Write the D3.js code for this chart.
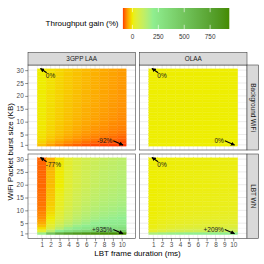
<!DOCTYPE html>
<html><head><meta charset="utf-8">
<script src="https://cdn.jsdelivr.net/npm/d3@7/dist/d3.min.js"></script>
<style>html,body{margin:0;padding:0;background:#fff;}svg{display:block;font-family:"Liberation Sans",Arial,Helvetica,sans-serif;}</style>
</head><body><svg id="c" width="264" height="264"></svg>
<script>
// ---------- data ----------
const frameDurations = [1,2,3,4,5,6,7,8,9,10];
const burstSizes = [1,2,3,4,5,6,7,8,9,10,11,12,13,14,15,16,17,18,19,20,21,22,23,24,25,26,27,28,29,30];
const technologies = ["3GPP LAA","OLAA"];
const scenarios = ["Background WiFi","LBT WN"];
const xTickValues = [1,2,3,4,5,6,7,8,9,10];
const yTickValues = [1,5,10,15,20,25,30];
const legendTicks = [0,250,500,750];
const legendTitle = "Throughput gain (%)";
const xTitle = "LBT frame duration (ms)";
const yTitle = "WiFi Packet burst size (KB)";
const colorStops = [-92,0,200,935];
const colorRange = ["#FF3A00","#EEEE00","#90EE90","#458B00"];

// gain (%) rows for burst size 1..30, columns frame duration 1..10
const laaBackground = [
[-28,-47,-61,-71,-78,-83,-87,-89,-91,-92],
[-17,-33,-46,-56,-64,-71,-77,-81,-84,-87],
[-12,-26,-38,-48,-56,-63,-69,-74,-78,-81],
[-9,-22,-33,-42,-50,-57,-63,-68,-72,-76],
[-7,-19,-29,-38,-46,-53,-59,-64,-68,-72],
[-6,-17,-27,-35,-43,-50,-55,-60,-64,-68],
[-5,-16,-25,-33,-41,-47,-53,-57,-62,-65],
[-4,-15,-24,-32,-39,-45,-51,-55,-59,-63],
[-4,-14,-23,-30,-37,-43,-49,-53,-58,-61],
[-3,-13,-22,-29,-36,-42,-47,-52,-56,-60],
[-3,-13,-21,-28,-35,-41,-46,-51,-55,-59],
[-3,-12,-20,-28,-34,-40,-45,-50,-54,-58],
[-2,-12,-20,-27,-33,-39,-44,-49,-53,-57],
[-2,-11,-19,-26,-33,-38,-44,-48,-52,-56],
[-2,-11,-19,-26,-32,-38,-43,-47,-51,-55],
[-2,-11,-18,-25,-31,-37,-42,-46,-50,-54],
[-2,-10,-18,-25,-31,-36,-41,-46,-50,-54],
[-1,-10,-18,-24,-30,-36,-41,-45,-49,-53],
[-1,-10,-17,-24,-30,-35,-40,-45,-49,-53],
[-1,-10,-17,-24,-30,-35,-40,-44,-48,-52],
[-1,-10,-17,-23,-29,-35,-40,-44,-48,-52],
[-1,-9,-17,-23,-29,-34,-39,-44,-47,-51],
[-1,-9,-16,-23,-29,-34,-39,-43,-47,-51],
[-1,-9,-16,-22,-28,-34,-39,-43,-47,-51],
[-1,-9,-16,-22,-28,-33,-38,-42,-46,-50],
[0,-9,-16,-22,-28,-33,-38,-42,-46,-50],
[0,-9,-16,-22,-28,-33,-38,-42,-46,-50],
[0,-8,-15,-22,-27,-33,-37,-42,-45,-49],
[0,-8,-15,-21,-27,-32,-37,-41,-45,-49],
[0,-8,-15,-21,-27,-32,-37,-41,-45,-49]];

const olaaBackground = [
[0,0,0,0,0,0,0,0,0,0],[0,0,0,0,0,0,0,0,0,0],[0,0,0,0,0,0,0,0,0,0],[0,0,0,0,0,0,0,0,0,0],[0,0,0,0,0,0,0,0,0,0],
[0,0,0,0,0,0,0,0,0,0],[0,0,0,0,0,0,0,0,0,0],[0,0,0,0,0,0,0,0,0,0],[0,0,0,0,0,0,0,0,0,0],[0,0,0,0,0,0,0,0,0,0],
[0,0,0,0,0,0,0,0,0,0],[0,0,0,0,0,0,0,0,0,0],[0,0,0,0,0,0,0,0,0,0],[0,0,0,0,0,0,0,0,0,0],[0,0,0,0,0,0,0,0,0,0],
[0,0,0,0,0,0,0,0,0,0],[0,0,0,0,0,0,0,0,0,0],[0,0,0,0,0,0,0,0,0,0],[0,0,0,0,0,0,0,0,0,0],[0,0,0,0,0,0,0,0,0,0],
[0,0,0,0,0,0,0,0,0,0],[0,0,0,0,0,0,0,0,0,0],[0,0,0,0,0,0,0,0,0,0],[0,0,0,0,0,0,0,0,0,0],[0,0,0,0,0,0,0,0,0,0],
[0,0,0,0,0,0,0,0,0,0],[0,0,0,0,0,0,0,0,0,0],[0,0,0,0,0,0,0,0,0,0],[0,0,0,0,0,0,0,0,0,0],[0,0,0,0,0,0,0,0,0,0]];

const laaLbtWn = [
[180,500,680,770,830,870,895,915,925,935],
[30,120,220,290,340,380,410,430,450,460],
[-10,55,125,180,220,250,270,290,300,310],
[-28,30,90,140,180,205,225,240,250,260],
[-40,15,70,115,150,175,195,210,220,230],
[-48,6,57,100,135,160,180,195,205,215],
[-55,-2,45,85,120,145,165,180,190,200],
[-59,-7,37,76,110,135,155,170,180,190],
[-62,-11,31,70,102,127,148,163,172,182],
[-65,-15,25,65,95,120,140,155,165,175],
[-67,-17,21,59,89,114,134,149,159,169],
[-69,-19,18,54,84,108,128,143,153,163],
[-70,-21,15,51,80,103,123,138,148,158],
[-71,-23,12,48,77,99,119,134,144,154],
[-72,-25,10,45,75,95,115,130,140,150],
[-72,-26,8,43,72,92,112,127,137,147],
[-73,-27,6,41,69,89,109,124,134,144],
[-74,-28,4,39,66,86,106,121,131,141],
[-74,-29,2,37,63,83,103,118,128,138],
[-75,-30,0,35,60,80,100,115,125,135],
[-75,-31,-1,34,59,79,98,113,123,133],
[-75,-31,-1,33,58,78,97,112,122,132],
[-76,-32,-2,32,57,77,96,111,121,131],
[-76,-32,-2,31,56,76,95,110,120,130],
[-76,-33,-3,30,55,75,93,108,118,128],
[-76,-33,-3,29,54,74,91,106,116,126],
[-77,-34,-4,28,53,73,89,104,114,124],
[-77,-34,-4,27,52,72,88,103,113,123],
[-77,-35,-5,26,51,71,86,101,111,121],
[-77,-35,-5,25,50,70,85,100,110,120]];

const olaaLbtWn = [
[150,172,184,192,198,202,205,207,208,209],
[25,45,60,70,77,82,86,89,91,92],
[10,22,32,39,44,48,51,53,55,56],
[6,14,21,26,30,33,35,37,38,39],
[4,10,15,19,22,25,27,28,29,30],
[3,8,12,15,18,20,22,23,24,25],
[2,6,10,13,15,17,18,19,20,21],
[2,5,8,11,13,14,15,16,17,18],
[1,4,7,9,11,12,13,14,15,16],
[1,4,6,8,10,11,12,13,13,14],
[1,3,6,7,9,10,11,11,12,12],
[1,3,5,7,8,9,10,10,11,11],
[1,3,5,6,7,8,9,9,10,10],
[1,2,4,6,7,8,8,9,9,9],
[0,2,4,5,6,7,8,8,8,9],
[0,2,4,5,6,7,7,7,8,8],
[0,2,3,5,5,6,7,7,7,8],
[0,2,3,4,5,6,6,7,7,7],
[0,2,3,4,5,5,6,6,7,7],
[0,2,3,4,5,5,6,6,6,7],
[0,1,3,4,4,5,5,6,6,6],
[0,1,3,4,4,5,5,6,6,6],
[0,1,2,3,4,5,5,5,6,6],
[0,1,2,3,4,4,5,5,6,6],
[0,1,2,3,4,4,5,5,5,6],
[0,1,2,3,4,4,5,5,5,5],
[0,1,2,3,3,4,4,5,5,5],
[0,1,2,3,3,4,4,5,5,5],
[0,1,2,3,3,4,4,5,5,5],
[0,1,2,3,3,4,4,5,5,5]];

// panel grid: [scenario][technology]
const panelData = [[laaBackground, olaaBackground],[laaLbtWn, olaaLbtWn]];

// ---------- layout ----------
const svg = d3.select("#c");
const colX = [[28,135.5],[139.5,247]];
const rowY = [[65,150],[154,238.5]];
const stripTop = 52.5, stripRightW = 11.7;
const xDomain = [-0.55, 11.55], yDomain = [-1, 32];
const color = d3.scaleLinear().domain(colorStops).range(colorRange).interpolate(d3.interpolateLab).clamp(true);
const border = "#333333", gridCol = "#EBEBEB", tickTxt = "#4D4D4D";

svg.append("defs").append("marker").attr("id","ah").attr("viewBox","0 0 10 10")
  .attr("refX",9).attr("refY",5).attr("markerWidth",4.2).attr("markerHeight",4.2)
  .attr("markerUnits","userSpaceOnUse").attr("orient","auto")
  .append("path").attr("d","M0,0L10,5L0,10z").attr("fill","#000");

const fmt = v => v > 0 ? "+" + v + "%" : (v < 0 ? "-" + Math.abs(v) + "%" : "0%");

for (let r = 0; r < 2; r++) {
  for (let c = 0; c < 2; c++) {
    const xs = d3.scaleLinear().domain(xDomain).range(colX[c]);
    const ys = d3.scaleLinear().domain(yDomain).range([rowY[r][1], rowY[r][0]]);
    const g = svg.append("g");
    const x0 = colX[c][0], x1 = colX[c][1], y0 = rowY[r][0], y1 = rowY[r][1];
    g.append("rect").attr("x",x0).attr("y",y0).attr("width",x1-x0).attr("height",y1-y0).attr("fill","#fff");
    // grid
    const xMinor = d3.pairs(xTickValues).map(p => (p[0]+p[1])/2).concat([xTickValues[0]-0.5, xTickValues[xTickValues.length-1]+0.5]);
    const yMinor = d3.pairs(yTickValues).map(p => (p[0]+p[1])/2).concat([yTickValues[0]-(yTickValues[1]-yTickValues[0])/2]);
    xMinor.forEach(v => g.append("line").attr("x1",xs(v)).attr("x2",xs(v)).attr("y1",y0).attr("y2",y1).attr("stroke",gridCol).attr("stroke-width",0.5));
    yMinor.filter(v => v >= yDomain[0] && v <= yDomain[1]).forEach(v => g.append("line").attr("x1",x0).attr("x2",x1).attr("y1",ys(v)).attr("y2",ys(v)).attr("stroke",gridCol).attr("stroke-width",0.5));
    xTickValues.forEach(v => g.append("line").attr("x1",xs(v)).attr("x2",xs(v)).attr("y1",y0).attr("y2",y1).attr("stroke",gridCol).attr("stroke-width",1));
    yTickValues.forEach(v => g.append("line").attr("x1",x0).attr("x2",x1).attr("y1",ys(v)).attr("y2",ys(v)).attr("stroke",gridCol).attr("stroke-width",1));
    // tiles
    const grid = panelData[r][c];
    const cells = [];
    burstSizes.forEach((b, bi) => frameDurations.forEach((f, fi) => cells.push({x:f, y:b, v:grid[bi][fi]})));
    g.selectAll("rect.tile").data(cells).enter().append("rect").attr("class","tile")
      .attr("x", d => xs(d.x-0.5)).attr("width", d => xs(d.x+0.5)-xs(d.x-0.5))
      .attr("y", d => ys(d.y+0.5)).attr("height", d => ys(d.y-0.5)-ys(d.y+0.5))
      .attr("fill", d => color(d.v)).attr("stroke", d => color(d.v)).attr("stroke-width",0.3);
    // annotations
    const tl = grid[burstSizes.length-1][0], br = grid[0][frameDurations.length-1];
    g.append("line").attr("x1",xs(1.55)).attr("y1",ys(29.0)).attr("x2",xs(0.85)).attr("y2",ys(30.65))
      .attr("stroke","#000").attr("stroke-width",1.1).attr("marker-end","url(#ah)");
    g.append("text").attr("x",xs(1.45)).attr("y",ys(28.0)).attr("dy","0.35em").attr("font-size",6.5).attr("fill","#1a1a1a").text(fmt(tl));
    g.append("line").attr("x1",xs(9.05)).attr("y1",ys(2.55)).attr("x2",xs(10.15)).attr("y2",ys(0.9))
      .attr("stroke","#000").attr("stroke-width",1.1).attr("marker-end","url(#ah)");
    g.append("text").attr("x",xs(8.95)).attr("y",ys(2.6)).attr("dy","0.35em").attr("text-anchor","end").attr("font-size",6.5).attr("fill","#1a1a1a").text(fmt(br));
    // border
    g.append("rect").attr("x",x0).attr("y",y0).attr("width",x1-x0).attr("height",y1-y0).attr("fill","none").attr("stroke",border).attr("stroke-width",0.55);
    // axes
    if (r === 1) {
      const ax = d3.axisBottom(xs).tickValues(xTickValues).tickSize(2.8).tickPadding(1.5);
      const a = svg.append("g").attr("transform",`translate(0,${y1})`).call(ax);
      a.select(".domain").remove();
      a.selectAll("line").attr("stroke",border).attr("stroke-width",0.55);
      a.selectAll("text").attr("font-size",6.4).attr("fill",tickTxt).attr("font-family","inherit");
    }
    if (c === 0) {
      const ay = d3.axisLeft(ys).tickValues(yTickValues).tickSize(2.8).tickPadding(1.5);
      const a = svg.append("g").attr("transform",`translate(${x0},0)`).call(ay);
      a.select(".domain").remove();
      a.selectAll("line").attr("stroke",border).attr("stroke-width",0.55);
      a.selectAll("text").attr("font-size",6.4).attr("fill",tickTxt).attr("font-family","inherit");
    }
    // strips
    if (r === 0) {
      svg.append("rect").attr("x",x0).attr("y",stripTop).attr("width",x1-x0).attr("height",y0-stripTop)
        .attr("fill","#D9D9D9").attr("stroke",border).attr("stroke-width",0.55);
      svg.append("text").attr("x",(x0+x1)/2).attr("y",(stripTop+y0)/2).attr("dy","0.35em").attr("text-anchor","middle")
        .attr("font-size",6.4).attr("fill","#1A1A1A").text(technologies[c]);
    }
    if (c === 1) {
      svg.append("rect").attr("x",x1).attr("y",y0).attr("width",stripRightW).attr("height",y1-y0)
        .attr("fill","#D9D9D9").attr("stroke",border).attr("stroke-width",0.55);
      svg.append("text").attr("transform",`translate(${x1+stripRightW/2},${(y0+y1)/2}) rotate(90)`).attr("dy","0.35em")
        .attr("text-anchor","middle").attr("font-size",6.4).attr("fill","#1A1A1A").text(scenarios[r]);
    }
  }
}

// axis titles
svg.append("text").attr("x",(colX[0][0]+colX[1][1])/2).attr("y",255.5).attr("text-anchor","middle").attr("font-size",8).attr("fill","#000").text(xTitle);
svg.append("text").attr("transform",`translate(12.6,${(rowY[0][0]+rowY[1][1])/2}) rotate(-90)`).attr("text-anchor","middle").attr("font-size",8).attr("fill","#000").text(yTitle);

// legend
const lx = d3.scaleLinear().domain([colorStops[0], colorStops[colorStops.length-1]]).range([122.9, 229.3]);
const lg = svg.select("defs").append("linearGradient").attr("id","lgrad").attr("x1","0%").attr("x2","100%");
d3.range(0, 101).forEach(i => {
  const v = colorStops[0] + (colorStops[colorStops.length-1]-colorStops[0]) * i/100;
  lg.append("stop").attr("offset", i + "%").attr("stop-color", color(v));
});
svg.append("rect").attr("x",lx.range()[0]).attr("y",8).attr("width",lx.range()[1]-lx.range()[0]).attr("height",21).attr("fill","url(#lgrad)");
legendTicks.forEach(t => {
  svg.append("line").attr("x1",lx(t)).attr("x2",lx(t)).attr("y1",8).attr("y2",12.2).attr("stroke","#fff").attr("stroke-width",0.6);
  svg.append("line").attr("x1",lx(t)).attr("x2",lx(t)).attr("y1",24.8).attr("y2",29).attr("stroke","#fff").attr("stroke-width",0.6);
  svg.append("text").attr("x",lx(t)).attr("y",39.3).attr("text-anchor","middle").attr("font-size",6.4).attr("fill","#333").text(t);
});
svg.append("text").attr("x",118.5).attr("y",26.3).attr("text-anchor","end").attr("font-size",8).attr("fill","#000").text(legendTitle);
</script></body></html>
